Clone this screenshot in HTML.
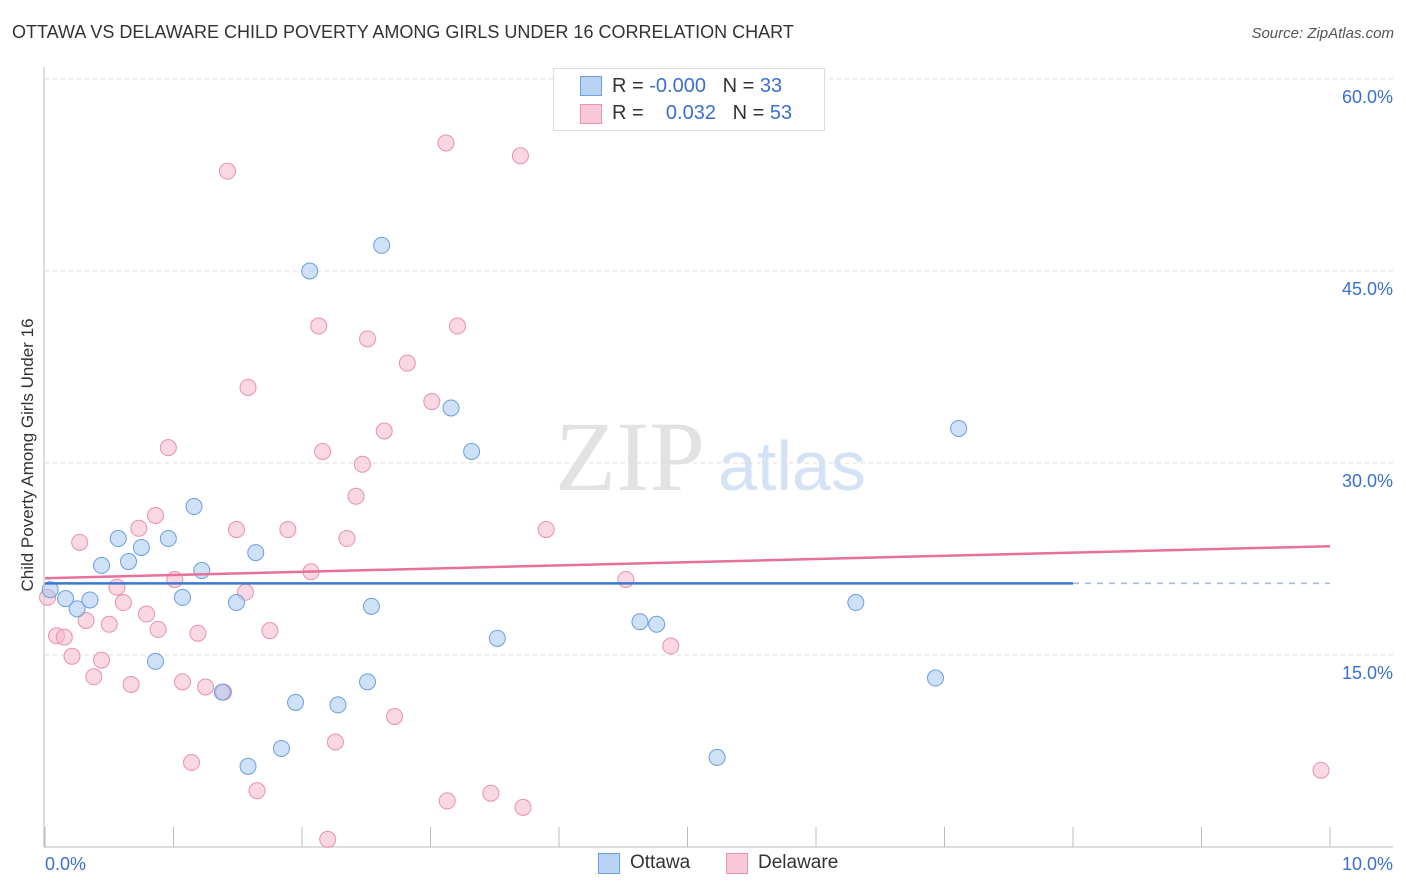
<!DOCTYPE html>
<html><head><meta charset="utf-8">
<style>
body{margin:0;background:#fff;font-family:"Liberation Sans",sans-serif;}
#wrap{position:relative;width:1406px;height:892px;overflow:hidden;}
.t{position:absolute;white-space:nowrap;}
</style></head>
<body>
<div id="wrap">
<div class="t" style="left:12px;top:22px;font-size:18px;color:#333;">OTTAWA VS DELAWARE CHILD POVERTY AMONG GIRLS UNDER 16 CORRELATION CHART</div>
<div class="t" style="right:12px;top:25px;font-size:15px;color:#555;font-style:italic;">Source: ZipAtlas.com</div>
<div class="t" style="left:-112px;top:445px;font-size:17px;color:#333;transform:rotate(-90deg);width:280px;text-align:center;">Child Poverty Among Girls Under 16</div>
<svg id="chart" width="1406" height="892" style="position:absolute;left:0;top:0;"></svg>
<div style="position:absolute;left:553px;top:68px;width:270px;height:61px;border:1px solid #ddd;background:#fff;font-size:20px;">
 <div style="position:absolute;left:26px;top:7px;width:20px;height:18px;background:#b8d2f4;border:1px solid #6e9fe0;"></div>
 <div class="t" style="left:58px;top:6px;color:#333;">R = <span style="color:#3a6fd0">-0.000</span>&nbsp;&nbsp;&nbsp;N = <span style="color:#3a6fd0">33</span></div>
 <div style="position:absolute;left:26px;top:35px;width:20px;height:18px;background:#f8c8d6;border:1px solid #ea94b0;"></div>
 <div class="t" style="left:58px;top:33px;color:#333;">R = &nbsp;&nbsp;&nbsp;<span style="color:#3a6fd0">0.032</span>&nbsp;&nbsp;&nbsp;N = <span style="color:#3a6fd0">53</span></div>
</div>
<div style="position:absolute;left:598px;top:852px;font-size:19px;color:#333;">
 <div style="position:absolute;left:0;top:1px;width:20px;height:19px;background:#b8d2f4;border:1px solid #6e9fe0;"></div>
 <div class="t" style="left:32px;top:0;">Ottawa</div>
 <div style="position:absolute;left:128px;top:1px;width:20px;height:19px;background:#f8c8d6;border:1px solid #ea94b0;"></div>
 <div class="t" style="left:160px;top:0;">Delaware</div>
</div>
</div>
<script>
const yTicks=[15,30,45,60];
const yTickLabels=["15.0%","30.0%","45.0%","60.0%"];
const xTickLabels=["0.0%","10.0%"];
const ottawaX=[0.04,0.16,0.25,0.35,0.44,0.57,0.65,0.75,0.86,0.96,1.07,1.16,1.22,1.49,1.58,1.64,1.38,1.84,1.95,2.06,2.28,2.51,2.54,2.62,3.16,3.32,3.52,4.63,4.76,5.23,6.31,6.93,7.11];
const ottawaY=[20.1,19.4,18.6,19.3,22.0,24.1,22.3,23.4,14.5,24.1,19.5,26.6,21.6,19.1,6.3,23.0,12.1,7.7,11.3,45.0,11.1,12.9,18.8,47.0,34.3,30.9,16.3,17.6,17.4,7.0,19.1,13.2,32.7];
const delX=[0.02,0.09,0.15,0.21,0.27,0.32,0.38,0.44,0.50,0.56,0.61,0.67,0.73,0.79,0.86,0.88,0.96,1.01,1.07,1.14,1.19,1.25,1.39,1.42,1.49,1.56,1.58,1.65,1.75,1.89,2.07,2.13,2.16,2.20,2.26,2.35,2.42,2.47,2.51,2.64,2.72,2.82,3.01,3.13,3.12,3.21,3.47,3.70,3.72,3.90,4.52,4.87,9.93];
const delY=[19.5,16.5,16.4,14.9,23.8,17.7,13.3,14.6,17.4,20.3,19.1,12.7,24.9,18.2,25.9,17.0,31.2,20.9,12.9,6.6,16.7,12.5,12.1,52.8,24.8,19.9,35.9,4.4,16.9,24.8,21.5,40.7,30.9,0.6,8.2,24.1,27.4,29.9,39.7,32.5,10.2,37.8,34.8,3.6,55.0,40.7,4.2,54.0,3.1,24.8,20.9,15.7,6.0];
const ottawaTrend=[20.6,20.6];
const delTrend=[21.0,23.5];

const NS="http://www.w3.org/2000/svg";
const svg=document.getElementById('chart');
const X0=45,X1=1330,Y0=847,PY=12.8;
const sx=v=>X0+(X1-X0)*v/10;
const sy=v=>Y0-v*PY;
function mk(tag,attrs){const e=document.createElementNS(NS,tag);for(const k in attrs)e.setAttribute(k,attrs[k]);svg.appendChild(e);return e;}
// watermark
let wm=mk('text',{x:555,y:490,'font-size':100,'font-family':'Liberation Serif,serif',fill:'#e2e2e2'});wm.textContent='ZIP';


let wm2=mk('text',{x:718,y:490,'font-size':70,'font-family':'Liberation Sans,sans-serif',fill:'#d4e2f6'});wm2.textContent='atlas';


yTicks.forEach((v,i)=>{
 const g=mk('line',{x1:X0,x2:1393,y1:sy(v),y2:sy(v),stroke:'#ddd','stroke-dasharray':'4,4'});
 
 
 const t=mk('text',{x:1393,y:sy(v)+24,'text-anchor':'end','font-size':18,fill:'#3a6fd0','font-family':'Liberation Sans,sans-serif'});
 t.textContent=yTickLabels[i];
 
 
});
let ax=mk('line',{x1:44,x2:44,y1:67,y2:Y0,stroke:'#bbb'});


let bx=mk('line',{x1:44,x2:1393,y1:Y0,y2:Y0,stroke:'#bbb'});


for(let i=0;i<=10;i++){
 const tk=mk('line',{x1:sx(i),x2:sx(i),y1:827,y2:Y0,stroke:'#bbb'});
 
 
}
[[0,'start',45],[10,'end',1393]].forEach((d,i)=>{
 const t=mk('text',{x:d[2],y:870,'text-anchor':d[1],'font-size':18,fill:'#3a6fd0','font-family':'Liberation Sans,sans-serif'});
 t.textContent=xTickLabels[i];
 
 
});
function pts(xs,ys,fill,stroke,name){
 xs.forEach((x,i)=>{
  const c=mk('circle',{cx:sx(x),cy:sy(ys[i]),r:8,fill:fill,'fill-opacity':0.55,stroke:stroke,'stroke-width':1});
  
  
 });
}
pts(delX,delY,'#f6b8cc','#e890b0','delaware-point');
pts(ottawaX,ottawaY,'#a8c8f0','#6a9ee0','ottawa-point');
let l1=mk('line',{x1:sx(0),x2:sx(8),y1:sy(ottawaTrend[0]),y2:sy(ottawaTrend[0]+(ottawaTrend[1]-ottawaTrend[0])*0.8),stroke:'#3a78d8','stroke-width':2.5});


let l1d=mk('line',{x1:sx(8),x2:sx(10),y1:sy(ottawaTrend[0]+(ottawaTrend[1]-ottawaTrend[0])*0.8),y2:sy(ottawaTrend[1]),stroke:'#9bb8e8','stroke-width':1.5,'stroke-dasharray':'6,6'});


let l2=mk('line',{x1:sx(0),x2:sx(10),y1:sy(delTrend[0]),y2:sy(delTrend[1]),stroke:'#e8709a','stroke-width':2.5});


</script>
</body></html>
